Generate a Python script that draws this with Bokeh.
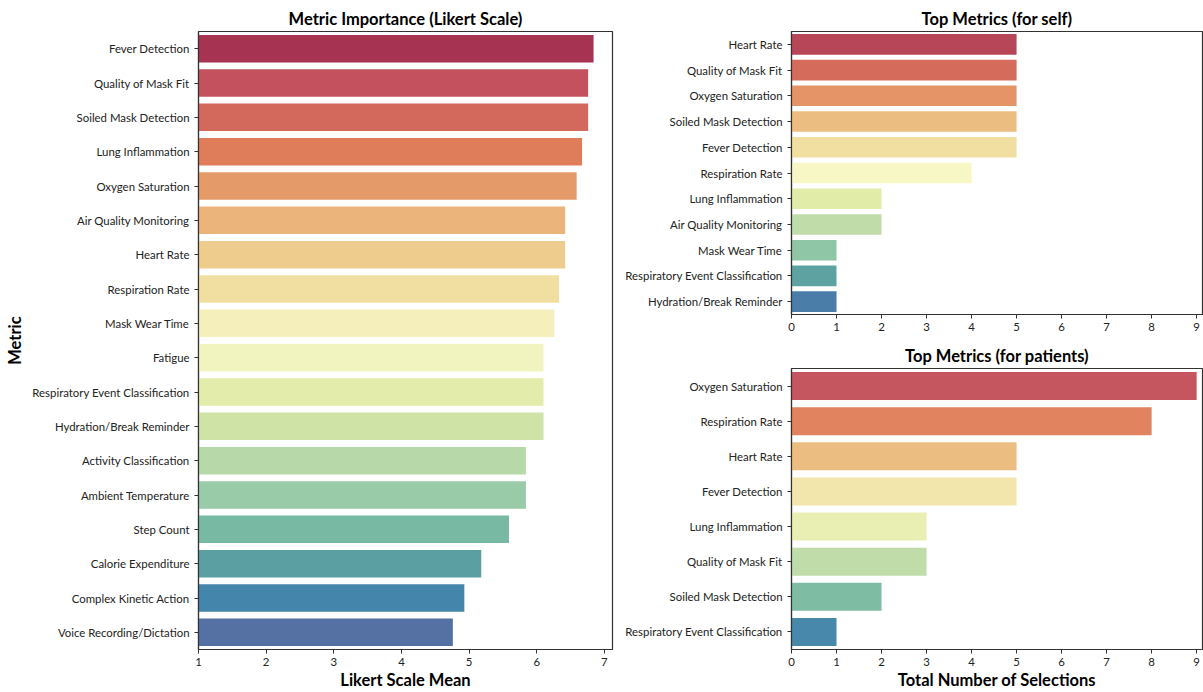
import colorsys
from bokeh.plotting import figure
from bokeh.layouts import row, column
from bokeh.models import FactorRange, Range1d, FixedTicker
from bokeh.embed import file_html
from bokeh.resources import INLINE

# ---------------- data ----------------
likert_metrics = [
    "Fever Detection", "Quality of Mask Fit", "Soiled Mask Detection",
    "Lung Inflammation", "Oxygen Saturation", "Air Quality Monitoring",
    "Heart Rate", "Respiration Rate", "Mask Wear Time", "Fatigue",
    "Respiratory Event Classification", "Hydration/Break Reminder",
    "Activity Classification", "Ambient Temperature", "Step Count",
    "Calorie Expenditure", "Complex Kinetic Action", "Voice Recording/Dictation",
]
likert_means = [6.84, 6.76, 6.76, 6.67, 6.59, 6.42, 6.42, 6.33, 6.26, 6.10,
                6.10, 6.10, 5.84, 5.84, 5.59, 5.18, 4.93, 4.76]

self_metrics = [
    "Heart Rate", "Quality of Mask Fit", "Oxygen Saturation",
    "Soiled Mask Detection", "Fever Detection", "Respiration Rate",
    "Lung Inflammation", "Air Quality Monitoring", "Mask Wear Time",
    "Respiratory Event Classification", "Hydration/Break Reminder",
]
self_counts = [5, 5, 5, 5, 5, 4, 2, 2, 1, 1, 1]

patient_metrics = [
    "Oxygen Saturation", "Respiration Rate", "Heart Rate", "Fever Detection",
    "Lung Inflammation", "Quality of Mask Fit", "Soiled Mask Detection",
    "Respiratory Event Classification",
]
patient_counts = [9, 8, 5, 5, 3, 3, 2, 1]

likert_ticks = [1, 2, 3, 4, 5, 6, 7]
count_ticks = [0, 1, 2, 3, 4, 5, 6, 7, 8, 9]

# ---------------- styling helpers ----------------
SPECTRAL = ["#9e0142", "#d53e4f", "#f46d43", "#fdae61", "#fee08b", "#ffffbf",
            "#e6f598", "#abdda4", "#66c2a5", "#3288bd", "#5e4fa2"]


def _hex2rgb(h):
    return tuple(int(h[i:i + 2], 16) / 255 for i in (1, 3, 5))


def _cmap(t):
    idx = min(int(t * 256), 255)
    x = idx / 255 * (len(SPECTRAL) - 1)
    i = min(int(x), len(SPECTRAL) - 2)
    f = x - i
    a, b = _hex2rgb(SPECTRAL[i]), _hex2rgb(SPECTRAL[i + 1])
    return tuple(a[k] + (b[k] - a[k]) * f for k in range(3))


def palette(n, sat=0.75):
    out = []
    for j in range(n):
        r, g, b = _cmap((j + 1) / (n + 1))
        h, l, s = colorsys.rgb_to_hls(r, g, b)
        r, g, b = colorsys.hls_to_rgb(h, l, s * sat)
        out.append("#%02x%02x%02x" % (round(r * 255), round(g * 255), round(b * 255)))
    return out


FONT = "Lato"
TICK_SIZE = "11.4px"


def style(p, title_text):
    p.title.text = title_text
    p.title.text_font = FONT
    p.title.text_font_style = "bold"
    p.title.text_font_size = "16.5px"
    p.title.align = "center"
    p.title.text_color = "#000000"
    p.title.offset = 0
    p.title.standoff = 5
    p.outline_line_color = "#333333"
    p.outline_line_width = 1.2
    p.xgrid.visible = False
    p.ygrid.visible = False
    for ax in (p.xaxis[0], p.yaxis[0]):
        ax.axis_line_color = "#333333"
        ax.axis_line_width = 1.2
        ax.major_tick_line_color = "#333333"
        ax.major_tick_out = 4
        ax.major_tick_in = 0
        ax.minor_tick_line_color = None
        ax.major_label_text_font = FONT
        ax.major_label_text_font_size = TICK_SIZE
        ax.major_label_text_color = "#222222"
        ax.axis_label_text_font = FONT
        ax.axis_label_text_font_style = "bold"
        ax.axis_label_text_font_size = "16.5px"
        ax.axis_label_text_color = "#000000"
    p.xaxis[0].major_label_standoff = 4
    p.yaxis[0].major_label_standoff = 5


# ---------------- left: Likert ----------------
left = figure(
    width=620, height=692, output_backend="svg", toolbar_location=None,
    y_range=FactorRange(factors=likert_metrics[::-1], range_padding=0),
    x_range=Range1d(1, 7.12),
    min_border_left=198, min_border_right=8, min_border_top=31, min_border_bottom=40,
)
left.hbar(y=likert_metrics, left=0, right=likert_means, height=0.8,
          fill_color=palette(len(likert_metrics)), line_color=None)
style(left, "Metric Importance (Likert Scale)")
left.xaxis[0].ticker = FixedTicker(ticks=likert_ticks)
left.xaxis[0].axis_label = "Likert Scale Mean"
left.xaxis[0].axis_label_standoff = 1
left.yaxis[0].axis_label = "Metric"
left.yaxis[0].axis_label_standoff = 4

# ---------------- right top: self ----------------
rt = figure(
    width=583, height=340, output_backend="svg", toolbar_location=None,
    y_range=FactorRange(factors=self_metrics[::-1], range_padding=0),
    x_range=Range1d(0, 9.13),
    min_border_left=171, min_border_right=1, min_border_top=31, min_border_bottom=26,
)
rt.hbar(y=self_metrics, left=0, right=self_counts, height=0.8,
        fill_color=palette(len(self_metrics)), line_color=None)
style(rt, "Top Metrics (for self)")
rt.xaxis[0].ticker = FixedTicker(ticks=count_ticks)

# ---------------- right bottom: patients ----------------
rb = figure(
    width=583, height=352, output_backend="svg", toolbar_location=None,
    y_range=FactorRange(factors=patient_metrics[::-1], range_padding=0),
    x_range=Range1d(0, 9.13),
    min_border_left=171, min_border_right=1, min_border_top=28, min_border_bottom=40,
)
rb.hbar(y=patient_metrics, left=0, right=patient_counts, height=0.8,
        fill_color=palette(len(patient_metrics)), line_color=None)
style(rb, "Top Metrics (for patients)")
rb.xaxis[0].ticker = FixedTicker(ticks=count_ticks)
rb.xaxis[0].axis_label = "Total Number of Selections"
rb.xaxis[0].axis_label_standoff = 1

layout = row(left, column(rt, rb, spacing=0), spacing=0)
open("out.html", "w").write(file_html(layout, INLINE))
